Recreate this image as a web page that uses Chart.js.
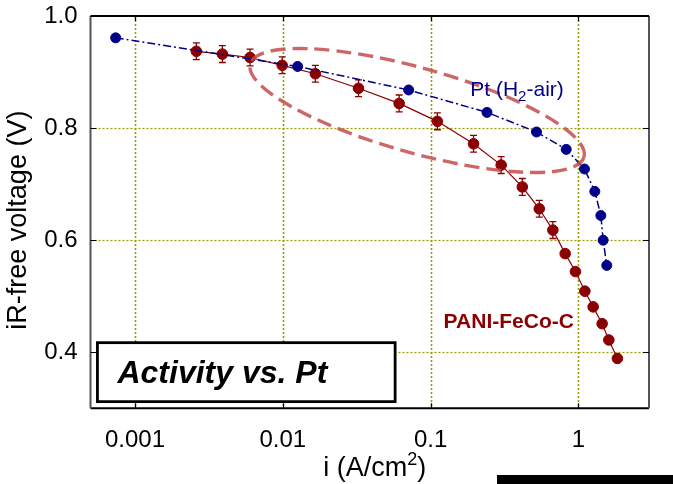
<!DOCTYPE html>
<html>
<head>
<meta charset="utf-8">
<script src="https://cdn.jsdelivr.net/npm/chart.js@4.4.1/dist/chart.umd.min.js"></script>
<style>
  html, body { margin: 0; padding: 0; background: #fff; }
  #wrap { position: relative; width: 673px; height: 484px; overflow: hidden; }
  #bar { position: absolute; left: 497px; top: 475px; width: 176px; height: 9px; background: #000; }
</style>
</head>
<body>
<div id="wrap">
  <canvas id="c" width="673" height="484"></canvas>
  <div id="bar"></div>
</div>
<script>
const FONT = '"Liberation Sans", Arial, Helvetica, sans-serif';

// PANI-FeCo-C cathode: current density (A/cm2), iR-free voltage (V), error (V)
const paniCurrent = [0.0026, 0.0039, 0.0060, 0.0099, 0.0166, 0.0325, 0.0612, 0.111, 0.195, 0.300,
                     0.417, 0.543, 0.671, 0.813, 0.954, 1.105, 1.257, 1.446, 1.605, 1.834];
const paniVoltage = [0.937, 0.932, 0.926, 0.912, 0.897, 0.871, 0.844, 0.812, 0.772, 0.734,
                     0.695, 0.656, 0.618, 0.576, 0.544, 0.509, 0.481, 0.451, 0.422, 0.389];
const paniError   = [0.015, 0.015, 0.015, 0.015, 0.015, 0.015, 0.015, 0.015, 0.015, 0.015,
                     0.015, 0.015, 0.015, 0, 0, 0, 0, 0, 0, 0];

// Pt reference cathode (H2-air)
const ptCurrent = [0.00074, 0.0126, 0.0710, 0.2405, 0.520, 0.826, 1.098, 1.29, 1.417, 1.469, 1.554];
const ptVoltage = [0.961, 0.910, 0.868, 0.828, 0.793, 0.762, 0.727, 0.687, 0.644, 0.600, 0.555];

// axis ticks
const xTickValues = [0.001, 0.01, 0.1, 1];
const xTickLabels = ['0.001', '0.01', '0.1', '1'];
const yTickValues = [0.4, 0.6, 0.8, 1.0];
const yTickLabels = ['0.4', '0.6', '0.8', '1.0'];
const yGridValues = [0.4, 0.6, 0.8];

// text
const xTitle = ['i (A/cm', '2', ')'];
const yTitle = 'iR-free voltage (V)';
const ptLabel = ['Pt (H', '2', '-air)'];
const paniLabel = 'PANI-FeCo-C';
const boxLabel = 'Activity vs. Pt';

const RED = '#8b0000';
const BLUE = '#000088';
const GRID = '#9b9b00';

const toPoints = (xs, ys) => xs.map((x, i) => ({ x: x, y: ys[i] }));

const frame = {
  id: 'frame',
  beforeDatasetsDraw(chart) {
    const { ctx, chartArea: a, scales: { x, y } } = chart;
    ctx.save();
    // dotted grid
    ctx.strokeStyle = GRID;
    ctx.setLineDash([2, 2]);
    ctx.lineWidth = 1.6;
    xTickValues.forEach(v => {
      const px = Math.round(x.getPixelForValue(v)) + 0.5;
      ctx.beginPath(); ctx.moveTo(px, a.top); ctx.lineTo(px, a.bottom); ctx.stroke();
    });
    ctx.lineWidth = 1.2;
    yGridValues.forEach(v => {
      const py = Math.round(y.getPixelForValue(v)) + 0.5;
      ctx.beginPath(); ctx.moveTo(a.left, py); ctx.lineTo(a.right, py); ctx.stroke();
    });
    ctx.setLineDash([]);
    // error bars
    ctx.strokeStyle = RED;
    ctx.lineWidth = 1.3;
    paniCurrent.forEach((c, i) => {
      const e = paniError[i];
      if (!e) return;
      const px = x.getPixelForValue(c);
      const y1 = y.getPixelForValue(paniVoltage[i] + e);
      const y2 = y.getPixelForValue(paniVoltage[i] - e);
      ctx.beginPath();
      ctx.moveTo(px, y1); ctx.lineTo(px, y2);
      ctx.moveTo(px - 3.5, y1); ctx.lineTo(px + 3.5, y1);
      ctx.moveTo(px - 3.5, y2); ctx.lineTo(px + 3.5, y2);
      ctx.stroke();
    });
    ctx.restore();
  },
  afterDatasetsDraw(chart) {
    const { ctx, chartArea: a, scales: { x, y } } = chart;
    const decade = x.getPixelForValue(10) - x.getPixelForValue(1);
    const volt = y.getPixelForValue(0) - y.getPixelForValue(1);
    ctx.save();

    // dashed ellipse highlighting the kinetic region
    const cx = x.getPixelForValue(0.081), cy = y.getPixelForValue(0.8314);
    ctx.strokeStyle = 'rgba(196, 76, 76, 0.85)';
    ctx.lineWidth = 3.4;
    ctx.setLineDash([15, 7]);
    ctx.beginPath();
    ctx.ellipse(cx, cy, 1.172 * decade, 0.0758 * volt, 15.6 * Math.PI / 180, 0, Math.PI * 2);
    ctx.stroke();
    ctx.setLineDash([]);

    // frame
    ctx.lineWidth = 2;
    ctx.strokeStyle = '#000';
    ctx.beginPath();
    ctx.moveTo(a.left, a.top); ctx.lineTo(a.right, a.top);
    ctx.moveTo(a.left, a.bottom); ctx.lineTo(a.right, a.bottom);
    ctx.stroke();
    ctx.strokeStyle = '#555';
    ctx.beginPath();
    ctx.moveTo(a.left, a.top); ctx.lineTo(a.left, a.bottom);
    ctx.moveTo(a.right, a.top); ctx.lineTo(a.right, a.bottom);
    ctx.stroke();

    // inward tick marks on all four sides
    ctx.strokeStyle = '#000';
    ctx.lineWidth = 1.2;
    ctx.beginPath();
    xTickValues.forEach(v => {
      const px = Math.round(x.getPixelForValue(v)) + 0.5;
      ctx.moveTo(px, a.bottom); ctx.lineTo(px, a.bottom - 5);
      ctx.moveTo(px, a.top); ctx.lineTo(px, a.top + 5);
    });
    yTickValues.forEach(v => {
      const py = Math.round(y.getPixelForValue(v)) + 0.5;
      ctx.moveTo(a.left, py); ctx.lineTo(a.left + 6, py);
      ctx.moveTo(a.right, py); ctx.lineTo(a.right - 6, py);
    });
    ctx.stroke();

    // boxed caption
    const bx1 = x.getPixelForValue(0.000557), bx2 = x.getPixelForValue(0.0575);
    const by1 = y.getPixelForValue(0.4171), by2 = y.getPixelForValue(0.3119);
    ctx.fillStyle = '#fff';
    ctx.fillRect(bx1, by1, bx2 - bx1, by2 - by1);
    ctx.lineWidth = 2.8;
    ctx.strokeStyle = '#000';
    ctx.strokeRect(bx1, by1, bx2 - bx1, by2 - by1);
    ctx.fillStyle = '#000';
    ctx.font = 'italic bold 32px ' + FONT;
    ctx.textAlign = 'left';
    ctx.textBaseline = 'alphabetic';
    ctx.fillText(boxLabel, bx1 + 20, (by1 + by2) / 2 + 11);

    // series labels
    let lx = x.getPixelForValue(0.1854), ly = y.getPixelForValue(0.8564);
    ctx.fillStyle = BLUE;
    ctx.font = '21px ' + FONT;
    ctx.fillText(ptLabel[0], lx, ly);
    lx += ctx.measureText(ptLabel[0]).width;
    ctx.font = '15px ' + FONT;
    ctx.fillText(ptLabel[1], lx, ly + 5);
    lx += ctx.measureText(ptLabel[1]).width;
    ctx.font = '21px ' + FONT;
    ctx.fillText(ptLabel[2], lx, ly);

    ctx.fillStyle = RED;
    ctx.font = 'bold 21px ' + FONT;
    ctx.fillText(paniLabel, x.getPixelForValue(0.1224), y.getPixelForValue(0.4428));

    ctx.restore();
  },
  afterDraw(chart) {
    const { ctx, chartArea: a } = chart;
    ctx.save();
    ctx.fillStyle = '#000';
    ctx.textBaseline = 'alphabetic';
    // x title with superscript
    ctx.font = '27px ' + FONT;
    const w0 = ctx.measureText(xTitle[0]).width;
    const w2 = ctx.measureText(xTitle[2]).width;
    ctx.font = '18px ' + FONT;
    const w1 = ctx.measureText(xTitle[1]).width;
    let tx = (a.left + a.right) / 2 + 5 - (w0 + w1 + w2) / 2;
    const ty = 476;
    ctx.textAlign = 'left';
    ctx.font = '27px ' + FONT;
    ctx.fillText(xTitle[0], tx, ty);
    ctx.font = '18px ' + FONT;
    ctx.fillText(xTitle[1], tx + w0, ty - 11);
    ctx.font = '27px ' + FONT;
    ctx.fillText(xTitle[2], tx + w0 + w1, ty);
    // y title
    ctx.translate(26, (a.top + a.bottom) / 2 + 8);
    ctx.rotate(-Math.PI / 2);
    ctx.textAlign = 'center';
    ctx.fillText(yTitle, 0, 0);
    ctx.restore();
  }
};

new Chart(document.getElementById('c'), {
  type: 'scatter',
  data: {
    datasets: [
      {
        label: 'Pt (H2-air)',
        data: toPoints(ptCurrent, ptVoltage),
        showLine: true,
        borderColor: BLUE,
        backgroundColor: BLUE,
        borderWidth: 1.5,
        borderDash: [8, 3, 2, 3],
        pointRadius: 5,
        pointBorderWidth: 1,
        tension: 0
      },
      {
        label: 'PANI-FeCo-C',
        data: toPoints(paniCurrent, paniVoltage),
        showLine: true,
        borderColor: RED,
        backgroundColor: RED,
        borderWidth: 1.2,
        pointRadius: 5.3,
        pointBorderWidth: 1,
        tension: 0
      }
    ]
  },
  options: {
    responsive: false,
    animation: false,
    devicePixelRatio: 1,
    layout: { padding: { left: 0, top: 16, right: 24, bottom: 0 } },
    plugins: { legend: { display: false }, tooltip: { enabled: false } },
    scales: {
      x: {
        type: 'logarithmic',
        min: 0.0005,
        max: 3,
        grid: { display: false, drawTicks: false },
        border: { display: false },
        afterBuildTicks: s => { s.ticks = xTickValues.map(v => ({ value: v })); },
        afterFit: s => { s.height = 75.7; s.paddingLeft = 0; s.paddingRight = 0; },
        ticks: {
          autoSkip: false,
          maxRotation: 0,
          padding: 18,
          color: '#000',
          font: { family: FONT, size: 24 },
          callback: v => xTickLabels[xTickValues.indexOf(v)]
        }
      },
      y: {
        type: 'linear',
        min: 0.3,
        max: 1.0,
        grid: { display: false, drawTicks: false },
        border: { display: false },
        afterBuildTicks: s => { s.ticks = yTickValues.map(v => ({ value: v })); },
        afterFit: s => { s.width = 90.5; s.paddingTop = 0; s.paddingBottom = 0; },
        ticks: {
          padding: 13,
          color: '#000',
          font: { family: FONT, size: 24 },
          callback: v => yTickLabels[yTickValues.indexOf(v)]
        }
      }
    }
  },
  plugins: [frame]
});
</script>
</body>
</html>
